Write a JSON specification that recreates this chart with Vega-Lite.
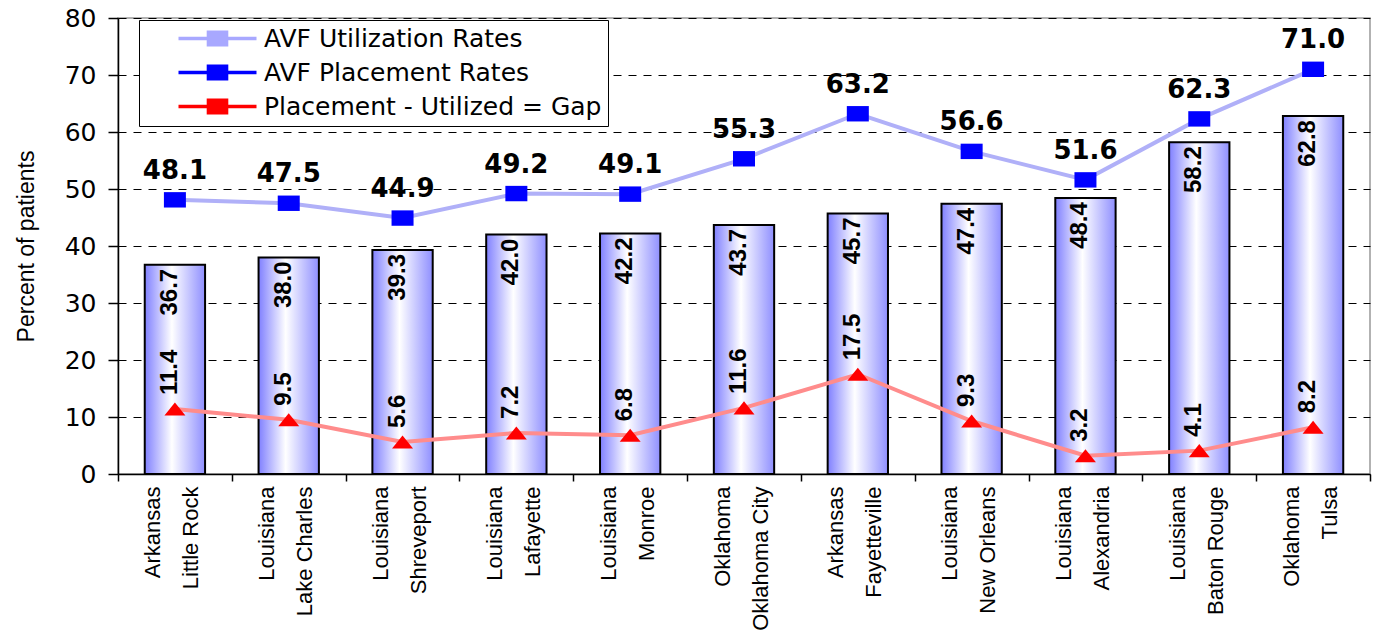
{
  "$schema": "https://vega.github.io/schema/vega-lite/v6.json",
  "width": 1252,
  "height": 456,
  "autosize": {"type": "none"},
  "padding": {"left": 118, "top": 18, "right": 16, "bottom": 157},
  "background": "white",
  "config": {
    "view": {"stroke": "#999999", "strokeWidth": 1.5}
  },
  "data": {
    "values": [
      {"loc": "Arkansas|Little Rock", "util": 36.7, "place": 48.1, "gap": 11.4},
      {"loc": "Louisiana|Lake Charles", "util": 38.0, "place": 47.5, "gap": 9.5},
      {"loc": "Louisiana|Shreveport", "util": 39.3, "place": 44.9, "gap": 5.6},
      {"loc": "Louisiana|Lafayette", "util": 42.0, "place": 49.2, "gap": 7.2},
      {"loc": "Louisiana|Monroe", "util": 42.2, "place": 49.1, "gap": 6.8},
      {"loc": "Oklahoma|Oklahoma City", "util": 43.7, "place": 55.3, "gap": 11.6},
      {"loc": "Arkansas|Fayetteville", "util": 45.7, "place": 63.2, "gap": 17.5},
      {"loc": "Louisiana|New Orleans", "util": 47.4, "place": 56.6, "gap": 9.3},
      {"loc": "Louisiana|Alexandria", "util": 48.4, "place": 51.6, "gap": 3.2},
      {"loc": "Louisiana|Baton Rouge", "util": 58.2, "place": 62.3, "gap": 4.1},
      {"loc": "Oklahoma|Tulsa", "util": 62.8, "place": 71.0, "gap": 8.2}
    ]
  },
  "encoding": {
    "x": {
      "field": "loc",
      "type": "nominal",
      "sort": null,
      "scale": {"paddingInner": 0, "paddingOuter": 0},
      "axis": {
        "title": null,
        "labelExpr": "datum.value ? split(datum.value, '|') : ''",
        "labelAngle": 270,
        "labelAlign": "right",
        "labelBaseline": "middle",
        "labelFont": "Liberation Sans",
        "labelFontSize": 22,
        "labelLineHeight": 38,
        "labelOffset": -22,
        "labelColor": "black",
        "labelPadding": 5,
        "labelLimit": 400,
        "labelOverlap": false,
        "labelBound": false,
        "tickBand": "extent",
        "tickSize": 7,
        "tickColor": "black",
        "tickWidth": 1.5,
        "domainColor": "black",
        "domainWidth": 1.5,
        "grid": false
      }
    }
  },
  "layer": [
    {
      "mark": {
        "type": "bar",
        "width": {"band": 0.53},
        "stroke": "black",
        "strokeWidth": 2,
        "color": {
          "gradient": "linear",
          "x1": 0, "y1": 0, "x2": 1, "y2": 0,
          "stops": [
            {"offset": 0, "color": "#8080ff"},
            {"offset": 0.45, "color": "#ffffff"},
            {"offset": 1, "color": "#8f8fff"}
          ]
        }
      },
      "encoding": {
        "y": {
          "field": "util",
          "type": "quantitative",
          "title": "Percent of patients",
          "scale": {"domain": [0, 80], "nice": false},
          "axis": {
            "values": [0, 10, 20, 30, 40, 50, 60, 70, 80],
            "grid": true,
            "gridColor": "black",
            "gridDash": [8, 7],
            "gridWidth": 1,
            "labelFont": "DejaVu Sans",
            "labelFontSize": 25,
            "labelColor": "black",
            "labelPadding": 12,
            "tickSize": 10,
            "tickColor": "black",
            "tickWidth": 1.5,
            "domainColor": "black",
            "domainWidth": 1.5,
            "titleFont": "Liberation Sans",
            "titleFontSize": 23,
            "titleFontWeight": "normal",
            "titleColor": "black",
            "titlePadding": 26
          }
        }
      }
    },
    {
      "mark": {"type": "line", "color": "#b0b0f8", "strokeWidth": 4},
      "encoding": {
        "y": {"field": "place", "type": "quantitative", "title": "Percent of patients"}
      }
    },
    {
      "mark": {"type": "line", "color": "#ff8c8c", "strokeWidth": 4},
      "encoding": {
        "y": {"field": "gap", "type": "quantitative", "title": "Percent of patients"}
      }
    },
    {
      "mark": {"type": "point", "shape": "M-1,-0.7H1V0.7H-1Z", "filled": true, "size": 484, "opacity": 1},
      "encoding": {
        "y": {"field": "place", "type": "quantitative", "title": "Percent of patients"},
        "color": {
          "datum": "AVF Placement Rates",
          "type": "nominal",
          "scale": {
            "domain": ["AVF Utilization Rates", "AVF Placement Rates", "Placement - Utilized = Gap"],
            "range": ["#a8a8ff", "#0000ff", "#ff0000"]
          },
          "legend": {
            "title": null,
            "orient": "none",
            "legendX": 21,
            "legendY": 2,
            "fillColor": "white",
            "strokeColor": "black",
            "padding": 6,
            "labelFont": "DejaVu Sans",
            "labelFontSize": 25,
            "labelColor": "black",
            "labelOffset": 94,
            "labelLimit": 900,
            "rowPadding": 8,
            "symbolSize": 576,
            "symbolOpacity": 1,
            "symbolStrokeWidth": 0,
            "symbolType": "M1.75,-0.15H8.25V0.15H1.75Z M4.1,-0.67H5.9V0.67H4.1Z"
          }
        }
      }
    },
    {
      "mark": {"type": "point", "shape": "M0,-0.62L1,0.62H-1Z", "filled": true, "size": 441, "opacity": 1},
      "encoding": {
        "y": {"field": "gap", "type": "quantitative", "title": "Percent of patients"},
        "color": {"datum": "Placement - Utilized = Gap", "type": "nominal"}
      }
    },
    {
      "mark": {"type": "text", "font": "DejaVu Sans", "fontWeight": "bold", "fontSize": 26, "baseline": "alphabetic", "dy": -21, "color": "black"},
      "encoding": {
        "y": {"field": "place", "type": "quantitative", "title": "Percent of patients"},
        "text": {"field": "place", "type": "quantitative", "format": ".1f"}
      }
    },
    {
      "mark": {"type": "text", "font": "Liberation Sans", "fontWeight": "bold", "fontSize": 24, "angle": 270, "align": "right", "baseline": "alphabetic", "dx": -4, "dy": 2, "color": "black"},
      "encoding": {
        "y": {"field": "util", "type": "quantitative", "title": "Percent of patients"},
        "text": {"field": "util", "type": "quantitative", "format": ".1f"}
      }
    },
    {
      "mark": {"type": "text", "font": "Liberation Sans", "fontWeight": "bold", "fontSize": 24, "angle": 270, "align": "left", "baseline": "alphabetic", "dx": 14, "dy": 2, "color": "black"},
      "encoding": {
        "y": {"field": "gap", "type": "quantitative", "title": "Percent of patients"},
        "text": {"field": "gap", "type": "quantitative", "format": ".1f"}
      }
    }
  ]
}
